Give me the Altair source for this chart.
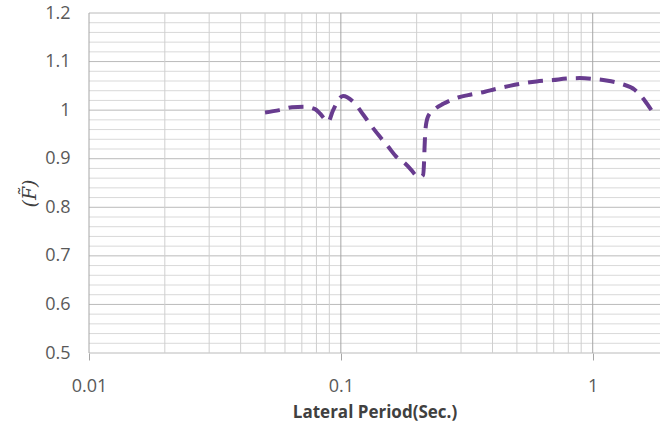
import altair as alt
import pandas as pd

# Curve
period = [0.05, 0.057, 0.064, 0.072, 0.079, 0.083, 0.089, 0.093, 0.102, 0.113,
          0.123, 0.132, 0.143, 0.154, 0.166, 0.180, 0.191, 0.200, 0.207, 0.212, 0.214,
          0.215, 0.217, 0.222, 0.236, 0.255, 0.292, 0.32, 0.373, 0.408, 0.468,
          0.513, 0.598, 0.696, 0.786, 0.888, 1.018, 1.133, 1.30, 1.468, 1.608, 1.71]
ratio = [0.995, 1.000, 1.006, 1.007, 1.002, 0.992, 0.976, 0.999, 1.029, 1.015,
         0.990, 0.968, 0.945, 0.925, 0.904, 0.890, 0.876, 0.864, 0.862, 0.866, 0.894,
         0.925, 0.963, 0.987, 1.002, 1.013, 1.026, 1.031, 1.038, 1.043, 1.050,
         1.054, 1.059, 1.062, 1.065, 1.066, 1.064, 1.061, 1.054, 1.042, 1.020, 1.000]

# Tick / grid values
x_major = [0.01, 0.1, 1]
x_minor = [0.02, 0.03, 0.04, 0.05, 0.06, 0.07, 0.08, 0.09,
           0.2, 0.3, 0.4, 0.5, 0.6, 0.7, 0.8, 0.9]
y_major = [0.5, 0.6, 0.7, 0.8, 0.9, 1.0, 1.1, 1.2]
y_minor = [0.52, 0.54, 0.56, 0.58, 0.62, 0.64, 0.66, 0.68,
           0.72, 0.74, 0.76, 0.78, 0.82, 0.84, 0.86, 0.88,
           0.92, 0.94, 0.96, 0.98, 1.02, 1.04, 1.06, 1.08,
           1.12, 1.14, 1.16, 1.18]

xscale = alt.Scale(type="log", domain=[0.01, 1.85], nice=False)
yscale = alt.Scale(domain=[0.5, 1.2], nice=False, zero=False)

xaxis = alt.Axis(
    values=x_major, format="~g", grid=False, domain=False,
    ticks=True, tickSize=7, tickColor="#a6a6a6",
    labelFont="Open Sans", labelFontSize=18, labelColor="#595959",
    labelPadding=17, labelFlush=False, labelOverlap=False,
    title="Lateral Period(Sec.)", titleFont="Open Sans",
    titleFontSize=17, titleFontWeight="bold", titleColor="#404040",
    titleBaseline="middle", titleY=59,
)
yaxis = alt.Axis(
    values=y_major, format="~g", grid=False, domain=False,
    ticks=False, tickSize=0,
    labelFont="Open Sans", labelFontSize=18, labelColor="#595959",
    labelPadding=19, labelFlush=False, labelOverlap=False,
    title="(F\u0303)", titleFont="DejaVu Serif", titleFontStyle="italic",
    titleFontSize=19, titleFontWeight="normal", titleColor="#404040",
    titleAngle=270, titleAlign="center", titleBaseline="middle",
    titleX=-60, titleY=180,
)

curve = pd.DataFrame({"period": period, "ratio": ratio})

h_minor = alt.Chart(pd.DataFrame({"ratio": y_minor})).mark_rule(
    color="#d9d9d9", strokeWidth=1
).encode(y=alt.Y("ratio:Q", scale=yscale, axis=yaxis))

h_major = alt.Chart(pd.DataFrame({"ratio": y_major})).mark_rule(
    color="#bababa", strokeWidth=1
).encode(y=alt.Y("ratio:Q", scale=yscale, axis=yaxis))

v_minor = alt.Chart(pd.DataFrame({"period": x_minor})).mark_rule(
    color="#cfcfcf", strokeWidth=1
).encode(x=alt.X("period:Q", scale=xscale, axis=xaxis))

v_major = alt.Chart(pd.DataFrame({"period": x_major})).mark_rule(
    color="#a6a6a6", strokeWidth=1
).encode(x=alt.X("period:Q", scale=xscale, axis=xaxis))

line = alt.Chart(curve).mark_line(
    color="#683c8f", strokeWidth=4, strokeDash=[15, 9], interpolate="monotone"
).encode(
    x=alt.X("period:Q", scale=xscale, axis=xaxis),
    y=alt.Y("ratio:Q", scale=yscale, axis=yaxis),
)

chart = alt.layer(h_minor, h_major, v_minor, v_major, line).properties(
    width=571, height=340,
    padding={"left": 89, "top": 13, "right": 0, "bottom": 71},
    autosize=alt.AutoSizeParams(type="none"),
    background="white",
).configure_view(stroke=None)

chart.save("out.html", embed_options={"renderer": "svg", "actions": False})
